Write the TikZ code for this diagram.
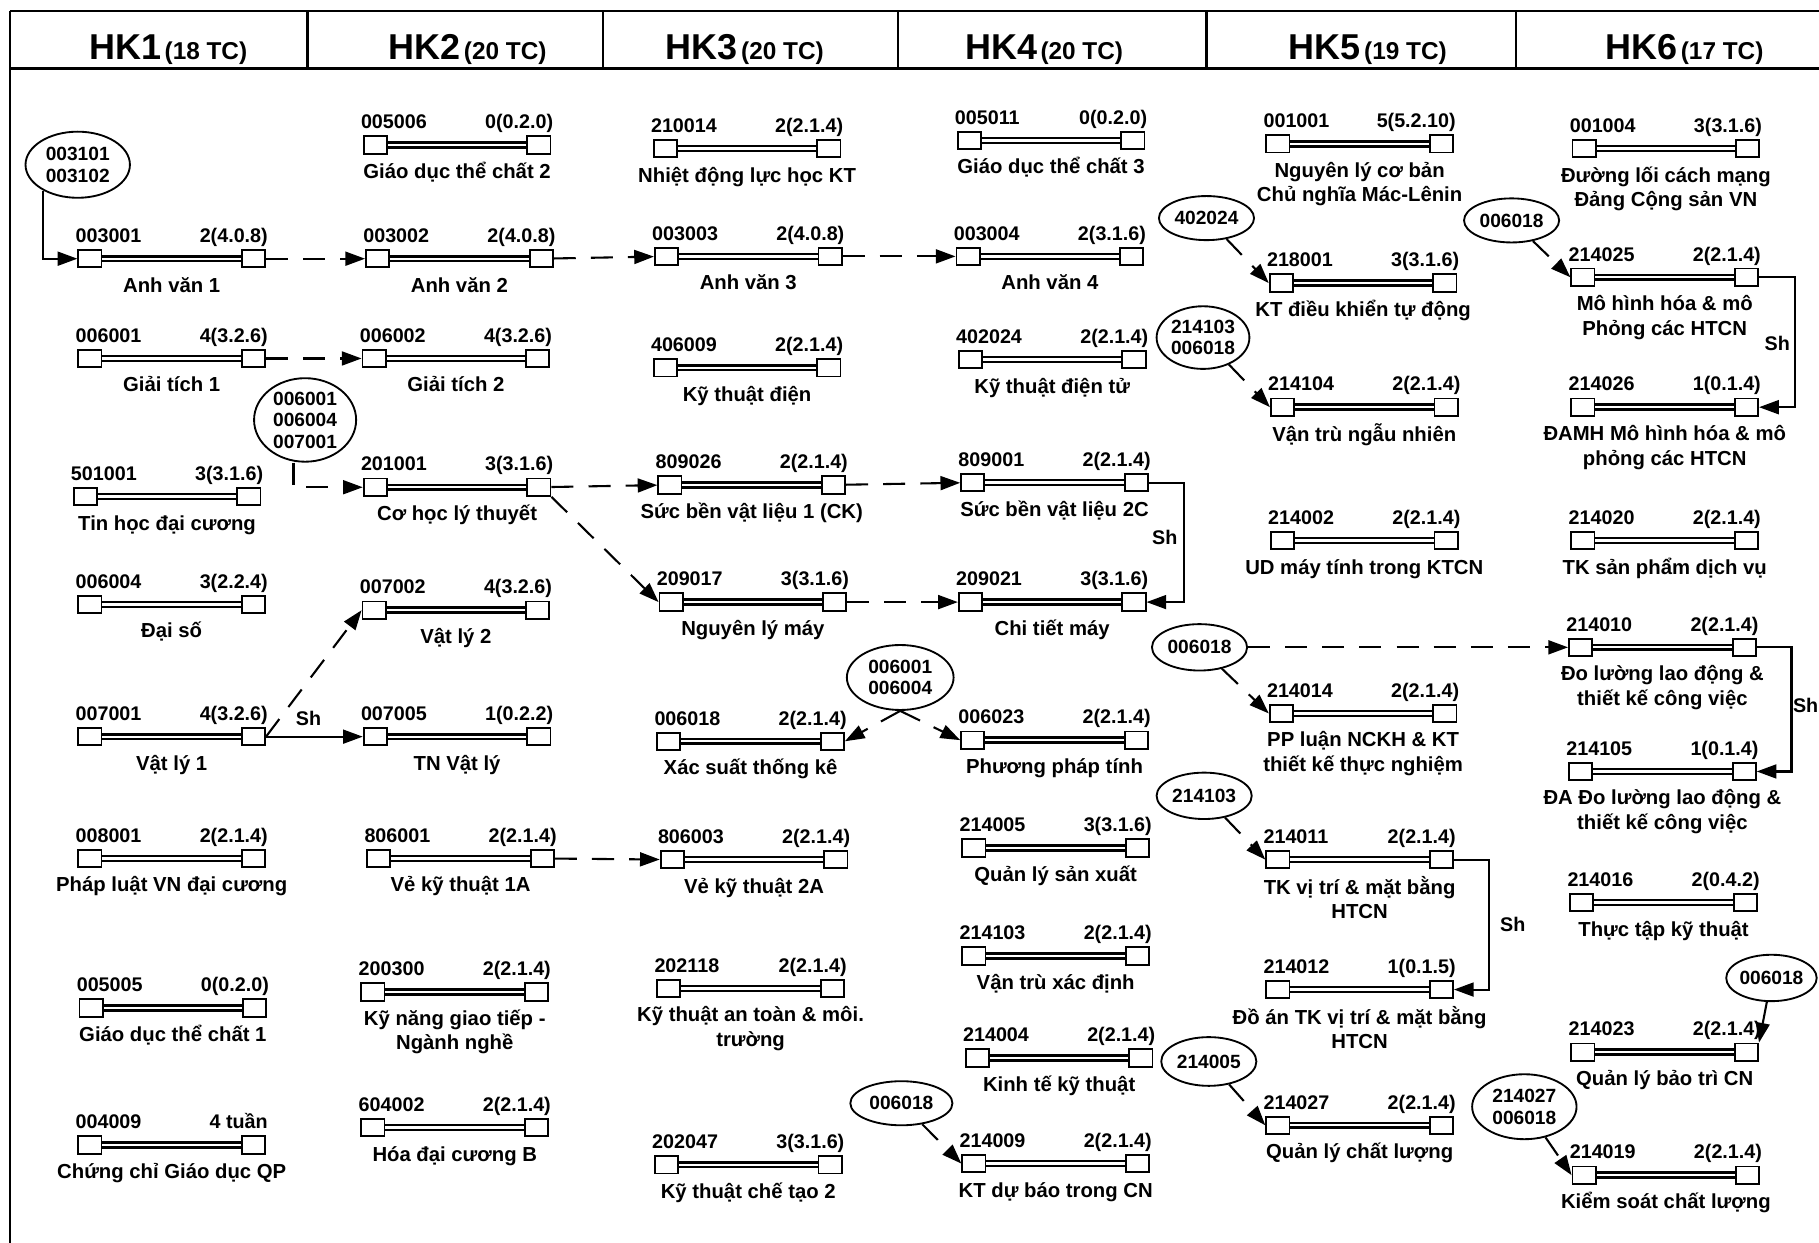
\documentclass[tikz,border=0pt]{standalone}
\usepackage{fontspec}
\setmainfont{Liberation Sans}
\usetikzlibrary{arrows.meta,shapes.geometric}
\tikzset{
  sq/.style={draw, line width=1.6pt, fill=white, minimum width=20pt, minimum height=15pt, inner sep=0pt},
  bar/.style={draw, line width=2.2pt, double=white, double distance=2pt},
  codet/.style={font=\fontsize{17}{19}\selectfont\bfseries, inner sep=0pt},
  namet/.style={font=\fontsize{17.5}{21}\selectfont\bfseries, inner sep=0pt, align=center, anchor=north},
  bub/.style={ellipse, draw, line width=1.6pt, inner sep=0pt, font=\fontsize{16.5}{18.5}\selectfont\bfseries, align=center},
  dasharrow/.style={line width=1.8pt, dash pattern=on 19pt off 13pt, -{Triangle[length=17pt,width=12pt]}},
  solarrow/.style={line width=1.8pt, -{Triangle[length=17pt,width=12pt]}},
  frame/.style={line width=2pt},
  hdr/.style={anchor=base, inner sep=0pt},
  shlab/.style={font=\fontsize{17}{19}\selectfont\bfseries, inner sep=0pt}
}
\newcommand\crs[6]{%
  \draw[bar] (#2-70.5,#3) -- (#2+70.5,#3);
  \node[sq] (#1L) at (#2-70.5,#3) {};
  \node[sq] (#1R) at (#2+70.5,#3) {};
  \node[codet, anchor=base west] (#1c) at (#2-83,#3-14) {#4};
  \node[codet, anchor=base east] (#1k) at (#2+83,#3-14) {#5};
  \node[namet] (#1n) at (#2,#3+14) {\strut #6};
}
\newcommand\hk[2]{{\fontsize{31}{32}\selectfont\bfseries HK#1}\hspace{3pt}{\fontsize{21}{22}\selectfont\bfseries (#2 TC)}}
\begin{document}
\begin{tikzpicture}[x=1pt,y=-1pt]
\fill[white] (0,0) rectangle (1568,1071);
\useasboundingbox (0,0) rectangle (1568,1071);

% frame and header
\draw[frame] (8.5,9.5) -- (1575,9.5);
\draw[frame] (8.5,59) -- (1575,59);
\draw[frame] (8.5,9.5) -- (8.5,1080);
\foreach \xx in {265,520,774,1040,1307} \draw[frame] (\xx,9.5) -- (\xx,59);
\node[hdr] (h1) at (145,51) {\hk{1}{18}};
\node[hdr] (h2) at (403,51) {\hk{2}{20}};
\node[hdr] (h3) at (642,51) {\hk{3}{20}};
\node[hdr] (h4) at (900,51) {\hk{4}{20}};
\node[hdr] (h5) at (1179,51) {\hk{5}{19}};
\node[hdr] (h6) at (1452,51) {\hk{6}{17}};

% HK1
\crs{c003001}{148}{223}{003001}{2(4.0.8)}{Anh văn 1}
\crs{c006001}{148}{309}{006001}{4(3.2.6)}{Giải tích 1}
\crs{c501001}{144}{428}{501001}{3(3.1.6)}{Tin học đại cương}
\crs{c006004}{148}{521}{006004}{3(2.2.4)}{Đại số}
\crs{c007001}{148}{635}{007001}{4(3.2.6)}{Vật lý 1}
\crs{c008001}{148}{740}{008001}{2(2.1.4)}{Pháp luật VN đại cương}
\crs{c005005}{149}{869}{005005}{0(0.2.0)}{Giáo dục thể chất 1}
\crs{c004009}{148}{987}{004009}{4 tuần}{Chứng chỉ Giáo dục QP}

% HK2
\crs{c005006}{394}{125}{005006}{0(0.2.0)}{Giáo dục thể chất 2}
\crs{c003002}{396}{223}{003002}{2(4.0.8)}{Anh văn 2}
\crs{c006002}{393}{309}{006002}{4(3.2.6)}{Giải tích 2}
\crs{c201001}{394}{420}{201001}{3(3.1.6)}{Cơ học lý thuyết}
\crs{c007002}{393}{526}{007002}{4(3.2.6)}{Vật lý 2}
\crs{c007005}{394}{635}{007005}{1(0.2.2)}{TN Vật lý}
\crs{c806001}{397}{740}{806001}{2(2.1.4)}{Vẻ kỹ thuật 1A}
\crs{c200300}{392}{855}{200300}{2(2.1.4)}{Kỹ năng giao tiếp -\\Ngành nghề}
\crs{c604002}{392}{972}{604002}{2(2.1.4)}{Hóa đại cương B}

% HK3
\crs{c210014}{644}{128}{210014}{2(2.1.4)}{Nhiệt động lực học KT}
\crs{c003003}{645}{221}{003003}{2(4.0.8)}{Anh văn 3}
\crs{c406009}{644}{317}{406009}{2(2.1.4)}{Kỹ thuật điện}
\crs{c809026}{648}{418}{809026}{2(2.1.4)}{Sức bền vật liệu 1 (CK)}
\crs{c209017}{649}{519}{209017}{3(3.1.6)}{Nguyên lý máy}
\crs{c006018}{647}{639}{006018}{2(2.1.4)}{Xác suất thống kê}
\crs{c806003}{650}{741}{806003}{2(2.1.4)}{Vẻ kỹ thuật 2A}
\crs{c202118}{647}{852}{202118}{2(2.1.4)}{Kỹ thuật an toàn \& môi.\\trường}
\crs{c202047}{645}{1004}{202047}{3(3.1.6)}{Kỹ thuật chế tạo 2}

% HK4
\crs{c005011}{906}{121}{005011}{0(0.2.0)}{Giáo dục thể chất 3}
\crs{c003004}{905}{221}{003004}{2(3.1.6)}{Anh văn 4}
\crs{c402024}{907}{310}{402024}{2(2.1.4)}{Kỹ thuật điện tử}
\crs{c809001}{909}{416}{809001}{2(2.1.4)}{Sức bền vật liệu 2C}
\crs{c209021}{907}{519}{209021}{3(3.1.6)}{Chi tiết máy}
\crs{c006023}{909}{638}{006023}{2(2.1.4)}{Phương pháp tính}
\crs{c214005}{910}{731}{214005}{3(3.1.6)}{Quản lý sản xuất}
\crs{c214103}{910}{824}{214103}{2(2.1.4)}{Vận trù xác định}
\crs{c214004}{913}{912}{214004}{2(2.1.4)}{Kinh tế kỹ thuật}
\crs{c214009}{910}{1003}{214009}{2(2.1.4)}{KT dự báo trong CN}

% HK5
\crs{c001001}{1172}{124}{001001}{5(5.2.10)}{Nguyên lý cơ bản\\Chủ nghĩa Mác-Lênin}
\crs{c218001}{1175}{244}{218001}{3(3.1.6)}{KT điều khiển tự động}
\crs{c214104}{1176}{351}{214104}{2(2.1.4)}{Vận trù ngẫu nhiên}
\crs{c214002}{1176}{466}{214002}{2(2.1.4)}{UD máy tính trong KTCN}
\crs{c214014}{1175}{615}{214014}{2(2.1.4)}{PP luận NCKH \& KT\\thiết kế thực nghiệm}
\crs{c214011}{1172}{741}{214011}{2(2.1.4)}{TK vị trí \& mặt bằng\\HTCN}
\crs{c214012}{1172}{853}{214012}{1(0.1.5)}{Đồ án TK vị trí \& mặt bằng\\HTCN}
\crs{c214027}{1172}{970}{214027}{2(2.1.4)}{Quản lý chất lượng}

% HK6
\crs{c001004}{1436}{128}{001004}{3(3.1.6)}{Đường lối cách mạng\\Đảng Cộng sản VN}
\crs{c214025}{1435}{239}{214025}{2(2.1.4)}{Mô hình hóa \& mô\\Phỏng các HTCN}
\crs{c214026}{1435}{351}{214026}{1(0.1.4)}{ĐAMH Mô hình hóa \& mô\\phỏng các HTCN}
\crs{c214020}{1435}{466}{214020}{2(2.1.4)}{TK sản phẩm dịch vụ}
\crs{c214010}{1433}{558}{214010}{2(2.1.4)}{Đo lường lao động \&\\thiết kế công việc}
\crs{c214105}{1433}{665}{214105}{1(0.1.4)}{ĐA Đo lường lao động \&\\thiết kế công việc}
\crs{c214016}{1434}{778}{214016}{2(0.4.2)}{Thực tập kỹ thuật}
\crs{c214023}{1435}{907}{214023}{2(2.1.4)}{Quản lý bảo trì CN}
\crs{c214019}{1436}{1013}{214019}{2(2.1.4)}{Kiểm soát chất lượng}

% prerequisite bubbles
\node[bub, minimum width=90pt, minimum height=57pt] (e1) at (67,142) {003101\\003102};
\node[bub, minimum width=88pt, minimum height=72pt] (e2) at (263,362) {006001\\006004\\007001};
\node[bub, minimum width=82pt, minimum height=38pt] (e3) at (1040,188) {402024};
\node[bub, minimum width=80pt, minimum height=54pt] (e4) at (1037,291) {214103\\006018};
\node[bub, minimum width=82pt, minimum height=38pt] (e5) at (1303,190) {006018};
\node[bub, minimum width=92pt, minimum height=56pt] (e6) at (776,584) {006001\\006004};
\node[bub, minimum width=82pt, minimum height=40pt] (e7) at (1034,558) {006018};
\node[bub, minimum width=82pt, minimum height=40pt] (e8) at (1038,686) {214103};
\node[bub, minimum width=88pt, minimum height=38pt] (e9) at (777,951) {006018};
\node[bub, minimum width=82pt, minimum height=42pt] (e10) at (1042,915) {214005};
\node[bub, minimum width=78pt, minimum height=40pt] (e11) at (1527,843) {006018};
\node[bub, minimum width=90pt, minimum height=56pt] (e12) at (1314,954) {214027\\006018};

% connectors
\draw[solarrow] (e1.-143) |- (c003001L);
\draw[dasharrow] ([xshift=-10pt]e2.south) |- (c201001L);
\draw[dasharrow] (c003001R) -- (c003002L);
\draw[dasharrow] (c003002R) -- (c003003L);
\draw[dasharrow] (c003003R) -- (c003004L);
\draw[dasharrow] (c006001R) -- (c006002L);
\draw[dasharrow] (c201001R) -- (c809026L);
\draw[dasharrow] (c809026R) -- (c809001L);
\draw[dasharrow] (c201001R.south east) -- (c209017L.west);
\draw[dasharrow] (c209017R) -- (c209021L);
\draw[dasharrow] (c806001R) -- (c806003L);
\draw[dasharrow] (c007001R.east) -- (c007002L.west);
\draw[solarrow] (c007001R) -- (c007005L);
\node[shlab] (sh1) at (266,619) {Sh};
\draw[solarrow] (c809001R.east) -- ++(30,0) |- (c209021R.east);
\node[shlab] (sh2) at (1004,463) {Sh};
\draw[dasharrow] (e6.south) -- (c006018R.east);
\draw[dasharrow] (e6.south) -- (c006023L.west);
\draw[dasharrow] (e9) -- (c214009L.west);
\draw[dasharrow] (e3) -- (c218001L.west);
\draw[dasharrow] (e4) -- (c214104L.west);
\draw[dasharrow] (e5) -- (c214025L.west);
\draw[dasharrow] (e7) -- (c214010L);
\draw[dasharrow] (e7) -- (c214014L.west);
\draw[dasharrow] (e8) -- (c214011L.west);
\draw[dasharrow] (e10) -- (c214027L.west);
\draw[dasharrow] (e11) -- (c214023R.north east);
\draw[dasharrow] (e12) -- (c214019L.west);
\draw[solarrow] (c214011R.east) -- ++(30,0) |- (c214012R.east);
\node[shlab] (sh3) at (1304,797) {Sh};
\draw[solarrow] (c214025R.east) -- ++(31,0) |- (c214026R.east);
\node[shlab] (sh4) at (1532,296) {Sh};
\draw[solarrow] (c214010R.east) -- ++(30,0) |- (c214105R.east);
\node[shlab, anchor=east] (sh5) at (1567.5,608) {Sh};
\end{tikzpicture}
\end{document}
